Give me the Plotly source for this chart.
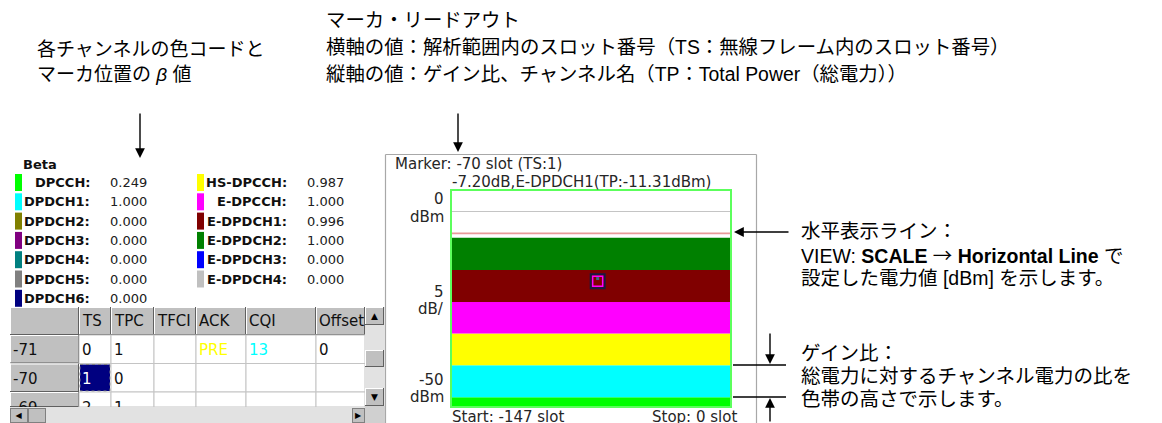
import plotly.graph_objects as go

W, H = 1162, 423

# ---------------- data ----------------
slots = list(range(-147, 1))
band_channels = ["DPCCH", "DPDCH1", "HS-DPCCH", "E-DPCCH", "E-DPDCH1", "E-DPDCH2"]
band_colors = ["#00ff00", "#00ffff", "#ffff00", "#ff00ff", "#800000", "#008000"]
band_heights_db = [2.25, 7.35, 7.35, 7.25, 7.35, 7.45]
floor_dbm = -50
top_dbm = 0
hline_dbm = -10
marker_slot = -70
marker_db = -21.0

beta_col1_names = ["DPCCH:", "DPDCH1:", "DPDCH2:", "DPDCH3:", "DPDCH4:", "DPDCH5:", "DPDCH6:"]
beta_col1_values = ["0.249", "1.000", "0.000", "0.000", "0.000", "0.000", "0.000"]
beta_col1_colors = ["#00ff00", "#00ffff", "#808000", "#800080", "#008080", "#808080", "#000080"]
beta_col2_names = ["HS-DPCCH:", "E-DPCCH:", "E-DPDCH1:", "E-DPDCH2:", "E-DPDCH3:", "E-DPDCH4:"]
beta_col2_values = ["0.987", "1.000", "0.996", "1.000", "0.000", "0.000"]
beta_col2_colors = ["#ffff00", "#ff00ff", "#800000", "#008000", "#0000ff", "#c0c0c0"]

table_headers = ["TS", "TPC", "TFCI", "ACK", "CQI", "Offset"]
table_row_labels = ["-71", "-70", "-69"]
table_rows = [["0", "1", "", "PRE", "13", "0"],
              ["1", "0", "", "", "", ""],
              ["2", "1", "", "", "", ""]]
table_text_colors = [["#101010", "#101010", "#101010", "#ffff00", "#00ffff", "#101010"],
                     ["#ffffff", "#101010", "#101010", "#101010", "#101010", "#101010"],
                     ["#101010", "#101010", "#101010", "#101010", "#101010", "#101010"]]

marker_readout_1 = "Marker: -70 slot (TS:1)"
marker_readout_2 = "-7.20dB,E-DPDCH1(TP:-11.31dBm)"
scale_labels = [("0", 199), ("dBm", 217), ("5", 292), ("dB/", 309), ("-50", 380), ("dBm", 397)]

note_left = ["各チャンネルの色コードと", "マーカ位置の <i>β</i> 値"]
note_top = ["マーカ・リードアウト",
            "横軸の値：解析範囲内のスロット番号（TS：無線フレーム内のスロット番号）",
            "縦軸の値：ゲイン比、チャンネル名（TP：Total Power（総電力））"]
note_hline = ["水平表示ライン：",
              "VIEW: <b>SCALE</b> <span style='font-family:Noto Sans CJK JP'>→</span> "
              "<b>Horizontal Line</b> で",
              "設定した電力値 [dBm] を示します。"]
note_gain = ["ゲイン比：", "総電力に対するチャンネル電力の比を", "色帯の高さで示します。"]

UI_FONT = "DejaVu Sans"
JP_FONT = "Liberation Sans, Noto Sans CJK JP"
UI_COLOR = "#262626"


def px(x):
    return x / W


def py(y):
    return 1 - y / H


shapes = []
anns = []


def line(x0, y0, x1, y1, color, width=1, dash="solid"):
    shapes.append(dict(type="line", xref="paper", yref="paper", x0=px(x0), y0=py(y0),
                       x1=px(x1), y1=py(y1), line=dict(color=color, width=width, dash=dash)))


def rect(x0, y0, x1, y1, fill, color=None, width=0, dash="solid"):
    shapes.append(dict(type="rect", xref="paper", yref="paper", x0=px(x0), y0=py(y0),
                       x1=px(x1), y1=py(y1), fillcolor=fill,
                       line=dict(color=color or "rgba(0,0,0,0)", width=width, dash=dash)))


def text(x, y, s, size=15, color=UI_COLOR, family=UI_FONT, xanchor="left"):
    anns.append(dict(x=px(x), y=py(y), xref="paper", yref="paper", text=s, showarrow=False,
                     xanchor=xanchor, yanchor="middle", borderpad=0,
                     font=dict(size=size, color=color, family=family)))


def cover(x0, y0, x1, y1, fill, s="&nbsp;", size=8, border=None):
    """opaque box drawn in the annotation layer (hides texts beneath, like a clipped widget)"""
    anns.append(dict(x=px(x0), y=py(y0), xref="paper", yref="paper", text=s, showarrow=False,
                     xanchor="left", yanchor="top", borderpad=0,
                     borderwidth=1 if border else 0, bordercolor=border or "rgba(0,0,0,0)",
                     width=x1 - x0 - (2 if border else 0), height=y1 - y0 - (2 if border else 0),
                     bgcolor=fill, align="center", valign="middle",
                     font=dict(size=size, color="#000000", family=UI_FONT)))


def arrow(xt, yt, xtail, ytail):
    anns.append(dict(x=px(xt), y=py(yt), xref="paper", yref="paper", ax=xtail - xt, ay=ytail - yt,
                     axref="pixel", ayref="pixel", showarrow=True, arrowhead=2, arrowsize=1.4,
                     arrowwidth=1.4, arrowcolor="black", text="", standoff=0))


def button3d(x0, y0, x1, y1, fill="#c0c0c0"):
    rect(x0, y0, x1, y1, fill)
    line(x0, y0 + 0.5, x1, y0 + 0.5, "#ffffff", 1)
    line(x0 + 0.5, y0, x0 + 0.5, y1, "#ffffff", 1)
    line(x0, y1 - 0.5, x1, y1 - 0.5, "#606060", 1)
    line(x1 - 0.5, y0, x1 - 0.5, y1, "#606060", 1)


fig = go.Figure()

# --------------- main chart (stacked bands) ---------------
fig.add_trace(go.Scatter(x=slots, y=[floor_dbm] * len(slots), stackgroup="bands", mode="lines",
                         line=dict(width=0), fillcolor="rgba(0,0,0,0)", hoverinfo="skip",
                         showlegend=False))
for name, color, h in zip(band_channels, band_colors, band_heights_db):
    fig.add_trace(go.Scatter(x=slots, y=[h] * len(slots), stackgroup="bands", mode="lines",
                             line=dict(width=0, color=color), fillcolor=color, name=name,
                             hoverinfo="skip", showlegend=False))

# marker
fig.add_trace(go.Scatter(x=[marker_slot], y=[marker_db], mode="markers", hoverinfo="skip",
                         showlegend=False,
                         marker=dict(symbol="square-open", size=14, color="#1a1a40",
                                     line=dict(width=2, color="#1a1a40"))))
fig.add_trace(go.Scatter(x=[marker_slot], y=[marker_db], mode="markers", hoverinfo="skip",
                         showlegend=False,
                         marker=dict(symbol="square-open", size=10, color="#ff00ff",
                                     line=dict(width=1.5, color="#ff00ff"))))
fig.add_trace(go.Scatter(x=[marker_slot], y=[marker_db + 0.6], mode="markers", hoverinfo="skip",
                         showlegend=False,
                         marker=dict(symbol="square", size=3, color="#3a6a8a")))

# horizontal display line and green frame
shapes.append(dict(type="line", xref="x domain", yref="y", x0=0, x1=1, y0=hline_dbm, y1=hline_dbm,
                   line=dict(color="#e89a9a", width=1.6), layer="above"))
shapes.append(dict(type="rect", xref="x domain", yref="y domain", x0=0, x1=1, y0=0, y1=1,
                   line=dict(color="#5cff5c", width=2), layer="above"))

# chart panel border
line(385.5, 154.5, 756.5, 154.5, "#a8a8a8", 1.2)
line(385.5, 154.5, 385.5, 423, "#a8a8a8", 1.2)
line(756.5, 154.5, 756.5, 423, "#a8a8a8", 1.2)

# chart panel texts
text(394, 164, marker_readout_1)
text(451, 182, marker_readout_2)
for s, yy in scale_labels:
    text(445, yy, s, xanchor="right")
text(451, 417, "Start: -147 slot")
text(738, 417, "Stop: 0 slot", xanchor="right")

# --------------- Beta legend ---------------
text(22, 164, "<b>Beta</b>", size=13, color="#101010")
row_y0, row_dy = 182.5, 19.3
for i, (n, v, c) in enumerate(zip(beta_col1_names, beta_col1_values, beta_col1_colors)):
    yy = row_y0 + i * row_dy
    rect(15, yy - 8.5, 22, yy + 8.5, c)
    text(91, yy, "<b>" + n + "</b>", size=13, color="#101010", xanchor="right")
    text(109, yy, v, size=13, color="#202020")
for i, (n, v, c) in enumerate(zip(beta_col2_names, beta_col2_values, beta_col2_colors)):
    yy = row_y0 + i * row_dy
    rect(197, yy - 8.5, 204, yy + 8.5, c)
    text(288, yy, "<b>" + n + "</b>", size=13, color="#101010", xanchor="right")
    text(306, yy, v, size=13, color="#202020")

# --------------- table ---------------
col_edges = [10, 79, 111, 154, 196, 246, 316, 365]
row_edges = [307, 335, 363.5, 392, 421]
tbl_bottom = 407
for j in range(len(col_edges) - 1):
    button3d(col_edges[j], row_edges[0], col_edges[j + 1], row_edges[1])
for j, hname in enumerate(table_headers):
    text(col_edges[j + 1] + 2, (row_edges[0] + row_edges[1]) / 2, hname, color="#101010")
for i, lab in enumerate(table_row_labels):
    y0, y1 = row_edges[i + 1], min(row_edges[i + 2], tbl_bottom)
    button3d(col_edges[0], y0, col_edges[1], y1)
    text(col_edges[0] + 2, (row_edges[i + 1] + row_edges[i + 2]) / 2 + 1, lab, color="#101010")
    for j, val in enumerate(table_rows[i]):
        x0, x1 = col_edges[j + 1], col_edges[j + 2]
        if i == 1 and j == 0:
            rect(x0 + 1, y0 + 1, x1 - 1, y1 - 1, "#000080", "#808080", 1, "dot")
        else:
            rect(x0, y0, x1, y1, "#ffffff", "#c4c4c4", 1)
        if val:
            text(x0 + 2, (row_edges[i + 1] + row_edges[i + 2]) / 2 + 1, val,
                 color=table_text_colors[i][j])
# vertical scrollbar
rect(365, 307, 385, 407, "#e2e2e2")
button3d(365, 307, 384, 325)
text(374.5, 316, "▲", size=9, color="#000000", xanchor="center")
button3d(365, 350, 384, 367)
button3d(365, 388, 384, 406)
text(374.5, 397, "▼", size=9, color="#000000", xanchor="center")
# horizontal scrollbar (drawn in the annotation layer so it clips the last table row)
cover(10, 407, 365, 423, "#e2e2e2")
cover(10, 408, 28, 423, "#c0c0c0", "◀", 8, "#808080")
cover(28, 408, 46, 423, "#c0c0c0", "&nbsp;", 8, "#808080")
cover(352, 408, 365, 423, "#c0c0c0", "▶", 8, "#808080")
cover(365, 406, 385, 423, "#d0d0d0")

# --------------- explanatory notes ---------------
text(36, 50, note_left[0], size=19, color="#000000", family=JP_FONT)
text(36, 74, note_left[1], size=19, color="#000000", family=JP_FONT)
for k, s in enumerate(note_top):
    text(325, 20 + 27 * k, s, size=19.4, color="#000000", family=JP_FONT)
for k, s in enumerate(note_hline):
    text(800, 231 + 23.5 * k, s, size=19.5, color="#000000", family=JP_FONT)
for k, s in enumerate(note_gain):
    text(800, 353 + 23 * k, s, size=19.5, color="#000000", family=JP_FONT)

arrow(140, 158, 140, 112)
arrow(458, 152, 458, 112)
arrow(734, 232, 790, 232)
line(733, 365, 786, 365, "#000000", 1.6)
line(733, 397, 786, 397, "#000000", 1.6)
arrow(770, 364, 770, 332)
arrow(770, 398, 770, 430)

fig.update_layout(
    width=W, height=H, margin=dict(l=0, r=0, t=0, b=0),
    paper_bgcolor="#ffffff", plot_bgcolor="#ffffff",
    hovermode=False, showlegend=False,
    xaxis=dict(domain=[px(451), px(731)], range=[slots[0], slots[-1]], visible=False,
               fixedrange=True),
    yaxis=dict(domain=[py(407), py(190)], range=[floor_dbm, top_dbm], dtick=5, tick0=0,
               showgrid=True, gridcolor="#c4c4c4", gridwidth=1, zeroline=False,
               showticklabels=False, ticks="", showline=False, fixedrange=True),
    shapes=shapes, annotations=anns,
)

fig.write_html("out.html", config={"displayModeBar": False},
               post_script="document.body.style.margin='0px';")
